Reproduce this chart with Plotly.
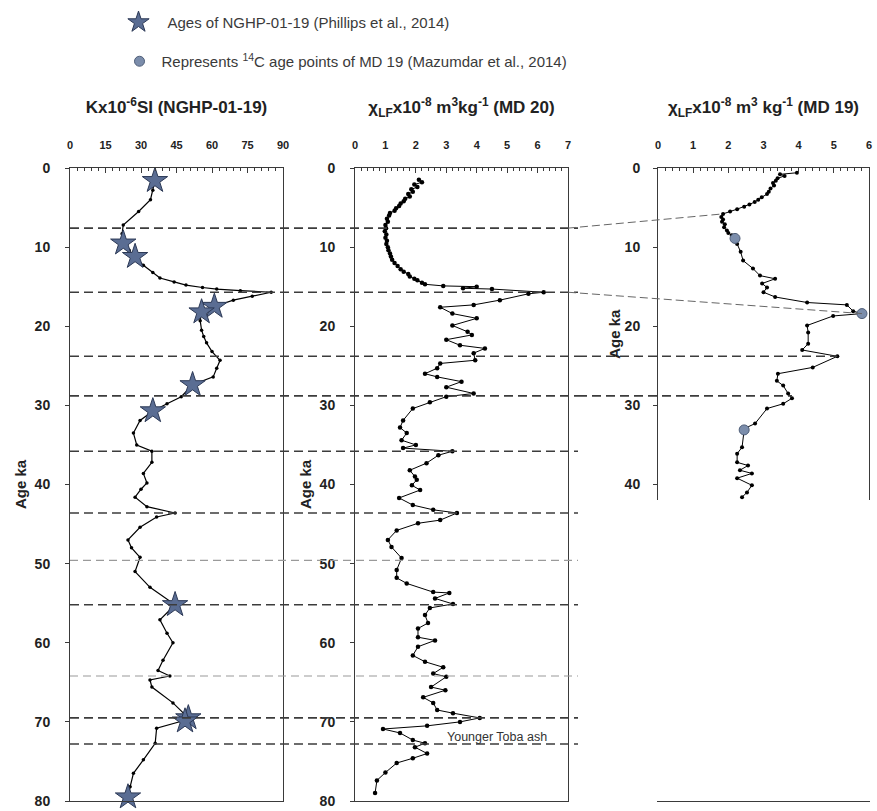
import plotly.graph_objects as go

# ---------------- data ----------------
# NGHP-01-19: magnetic susceptibility K (x10^-6 SI) versus age (ka)
ngh_age = [1.6, 2.8, 4.0, 5.5, 7.2, 8.3, 9.5, 10.4, 11.2, 12.3, 13.2, 13.9, 14.4, 14.8,
           15.1, 15.3, 15.5, 15.7, 16.2, 16.7, 17.5, 18.2, 19.3, 20.5, 21.3, 22.1, 23.2,
           24.3, 25.3, 26.4, 27.4, 28.9, 29.8, 30.7, 31.9, 33.5, 35.0, 35.8, 37.2, 38.6,
           39.8, 40.6, 41.6, 42.8, 43.6, 44.1, 45.4, 47.0, 48.0, 49.2, 51.0, 53.0, 55.2,
           57.1, 58.8, 60.0, 62.2, 63.5, 64.2, 64.7, 65.6, 67.6, 69.5, 69.8, 70.8, 72.7,
           74.8, 76.5, 78.2, 79.5]
ngh_k = [35.9, 35, 34, 29, 22.5, 22, 22.5, 25, 27.5, 31, 35, 38, 44, 49,
         56, 62, 72, 85, 77, 69, 61, 55.6, 55, 55.6, 56.5, 57.7, 60,
         63.4, 62, 60.5, 51.8, 47, 41, 35, 29.6, 26.8, 28.2, 34.6, 34.6, 31,
         32.5, 30, 27.5, 32.5, 44.4, 36.6, 29.6, 24.5, 26, 29.6, 27.5, 33.8, 44.4,
         38, 41, 43.5, 39.3, 37.2, 42.2, 33.8, 34.6, 43.5, 50, 48.6, 36.6, 36,
         31, 26.8, 25.4, 24.5]

# dated horizons of NGHP-01-19 (Phillips et al., 2014)
star_age = [1.6, 9.5, 11.2, 17.5, 18.2, 27.4, 30.7, 55.2, 69.5, 69.9, 79.5]
star_k = [35.9, 22.5, 27.5, 61, 55.6, 51.8, 35, 44.4, 50, 48.6, 24.5]

# MD 20: low-frequency mass susceptibility
md20_age = [1.5, 1.8, 2.1, 2.4, 2.7, 3.0, 3.3, 3.6, 3.9, 4.2, 4.5, 4.8, 5.1, 5.4, 5.7,
            6.0, 6.4, 6.8, 7.2, 7.6, 8.0, 8.4, 8.8, 9.2, 9.6, 10.0, 10.4, 10.8, 11.2,
            11.6, 12.0, 12.4, 12.8, 13.1, 13.4, 13.7, 14.0, 14.2, 14.5, 14.7,
            14.9, 15.0, 15.2, 15.3, 15.7,
            15.9, 16.7, 17.3, 17.6, 18.4, 19.0, 19.9, 20.7, 21.1, 21.7, 22.4, 22.8, 23.4,
            24.3, 24.7, 25.3, 26.0, 26.4, 27.0, 27.7, 28.5, 28.9, 29.6, 30.4, 31.9, 32.8,
            33.5, 34.4, 35.0, 35.4, 35.8, 36.3, 37.3, 38.2, 39.0, 39.4, 40.1, 40.7, 41.7,
            42.6, 43.2, 43.6, 44.5, 44.9, 45.8, 47.0, 47.9, 49.3, 50.8, 51.8, 52.5, 53.6,
            53.7, 54.4, 55.1, 55.6, 56.5, 57.5, 58.2, 59.3, 59.7, 60.5, 61.6, 62.4, 63.1,
            63.9, 64.3, 65.6, 66.0, 66.9, 67.6, 68.5, 68.9, 69.5, 70.0, 70.5, 70.9, 71.4,
            72.3, 72.7, 73.2, 74.0, 74.6, 75.2, 76.4, 77.4, 79.0]
md20_chi = [2.1, 2.2, 1.95, 2.05, 1.85, 1.9, 1.75, 1.8, 1.65, 1.6, 1.5, 1.45, 1.35, 1.3, 1.15,
            1.12, 1.05, 1.08, 1.0, 1.02, 0.98, 1.03, 1.0, 1.05, 1.03, 1.08, 1.1, 1.15, 1.18,
            1.22, 1.3, 1.4, 1.5, 1.6, 1.75, 1.8, 1.95, 2.05, 2.2, 2.3,
            2.9, 4.0, 3.55, 4.5, 6.2,
            5.7, 4.76, 3.9, 2.8, 3.2, 4.0, 3.2, 3.7, 3.84, 3.0, 3.45, 4.27, 3.9,
            3.95, 2.8, 2.7, 2.3, 2.7, 3.5, 3.0, 3.9, 3.0, 2.46, 1.9, 1.58, 1.48,
            1.7, 1.53, 2.0, 1.58, 3.2, 2.74, 2.35, 1.8, 1.97, 2.03, 1.87, 2.14, 1.45,
            1.9, 2.57, 3.35, 2.8, 2.07, 1.37, 1.08, 1.2, 1.53, 1.37, 1.37, 1.7, 2.57,
            3.1, 2.63, 3.22, 2.46, 2.3, 2.4, 2.07, 2.07, 2.63, 2.07, 1.9, 2.3, 2.9,
            2.57, 3.0, 2.5, 2.97, 2.24, 2.57, 2.7, 3.22, 4.1, 3.45, 2.37, 0.92, 1.48,
            1.9, 2.3, 1.97, 2.37, 1.9, 1.37, 1.0, 0.72, 0.66]

# MD 19: low-frequency mass susceptibility
md19_age = [0.6, 0.8, 1.0, 1.3, 1.6, 1.9, 2.2, 2.6, 3.0, 3.3, 3.7, 4.0, 4.3, 4.6, 4.9,
            5.2, 5.5, 5.8, 6.2, 6.5, 6.8, 7.1, 7.5, 7.9, 8.2, 8.5, 8.9, 9.2, 9.6,
            10.6, 11.7, 12.7, 13.6, 14.0, 14.6, 15.1, 15.7, 16.3, 17.0, 17.3, 18.1,
            18.4, 18.7, 19.9, 20.8, 22.2, 23.0, 23.8, 25.2, 26.0, 26.9, 27.5, 28.5, 29.1,
            29.8, 30.4, 32.3, 32.9, 33.1, 35.3, 36.1, 37.2, 37.6, 38.2, 38.6, 39.2, 40.1,
            41.0, 41.6]
md19_chi = [3.95, 3.47, 3.6, 3.4, 3.35, 3.27, 3.3, 3.2, 3.15, 3.1, 2.95, 2.85, 2.75, 2.6, 2.45,
            2.25, 2.05, 1.85, 1.8, 1.85, 1.82, 1.9, 1.88, 1.96, 2.0, 2.1, 2.19, 2.2, 2.25,
            2.35, 2.42, 2.7, 2.9, 3.33, 2.96, 3.1, 3.0, 3.33, 4.24, 5.37, 5.55,
            5.8, 4.98, 4.24, 4.27, 4.27, 4.1, 5.1, 4.4, 3.41, 3.38, 3.56, 3.7, 3.81,
            3.56, 3.1, 2.76, 2.47, 2.45, 2.39, 2.25, 2.25, 2.56, 2.33, 2.67, 2.25, 2.67,
            2.53, 2.39]

# 14C dated points of MD 19 (Mazumdar et al., 2014)
c14_age = [8.9, 18.4, 33.1]
c14_chi = [2.19, 5.8, 2.45]

# correlation horizons (ka)
horizons_dark = [7.6, 15.7, 23.8, 28.8, 35.8, 43.6, 55.2, 69.5, 72.8]
horizons_light = [49.6, 64.2]
# horizons tied to MD 19: (age in NGHP/MD20, age in MD19, MD19 value where line ends)
tie_slanted = [(7.6, 5.8, 1.85), (15.7, 18.4, 5.8)]
tie_level = [(23.8, 5.1), (28.8, 3.81)]

# ---------------- layout geometry ----------------
W, H = 877, 811
dom1 = [70 / W, 283 / W]
dom2 = [355 / W, 568 / W]
dom3 = [658 / W, 869 / W]
ytop = 1 - 168 / H
ybot = 1 - 801 / H
px_per_ka = (801 - 168) / 80
ybot3 = 1 - (168 + 42 * px_per_ka) / H
X3_MAX = 6


def x3_paper(v):
    return dom3[0] + v / X3_MAX * (dom3[1] - dom3[0])


FONT = "Liberation Sans, Arial, sans-serif"
AX = "#3a3a3a"

fig = go.Figure()

fig.add_trace(go.Scatter(
    x=ngh_k, y=ngh_age, xaxis="x", yaxis="y", mode="lines+markers",
    line=dict(color="black", width=1.2), marker=dict(color="black", size=3.5),
    showlegend=False, hoverinfo="skip"))
fig.add_trace(go.Scatter(
    x=star_k, y=star_age, xaxis="x", yaxis="y", mode="markers",
    marker=dict(symbol="star", size=19, color="#5a6d93",
                line=dict(color="#2c3956", width=1)),
    name="Ages of NGHP-01-19 (Phillips et al., 2014)", legend="legend",
    cliponaxis=False))

fig.add_trace(go.Scatter(
    x=md20_chi, y=md20_age, xaxis="x2", yaxis="y2", mode="lines+markers",
    line=dict(color="black", width=1), marker=dict(color="black", size=4.5),
    showlegend=False, hoverinfo="skip"))

fig.add_trace(go.Scatter(
    x=md19_chi, y=md19_age, xaxis="x3", yaxis="y3", mode="lines+markers",
    line=dict(color="black", width=1), marker=dict(color="black", size=4),
    showlegend=False, hoverinfo="skip"))
fig.add_trace(go.Scatter(
    x=c14_chi, y=c14_age, xaxis="x3", yaxis="y3", mode="markers",
    marker=dict(symbol="circle", size=10, color="#7b8dab",
                line=dict(color="#4f5e78", width=1)),
    name="Represents <sup>14</sup>C age points of MD 19 (Mazumdar et al., 2014)",
    legend="legend2", cliponaxis=False))


def xax(domain, rng, dtick, minor, title):
    return dict(
        domain=domain, range=rng, side="top", dtick=dtick, tick0=0,
        ticks="inside", ticklen=5, tickcolor=AX, tickwidth=1,
        minor=dict(dtick=minor, ticks="inside", ticklen=3, tickcolor=AX),
        showline=True, mirror=True, linecolor=AX, linewidth=1,
        showgrid=False, zeroline=False, ticklabelstandoff=14,
        tickfont=dict(family=FONT, size=11, color="#222", weight="bold"),
        title=dict(text=title, standoff=20,
                   font=dict(family=FONT, size=17, color="#222", weight="bold")),
    )


def yax(domain, rng, anchor, standoff, label_gap=12):
    return dict(
        domain=domain, range=rng, anchor=anchor, dtick=10, tick0=0,
        ticks="outside", ticklen=4, tickcolor=AX,
        showline=True, mirror=True, linecolor=AX, linewidth=1,
        showgrid=False, zeroline=False, ticklabelstandoff=label_gap,
        tickfont=dict(family=FONT, size=14, color="#222", weight="bold"),
        title=dict(text="Age ka", standoff=standoff,
                   font=dict(family=FONT, size=15, color="#222", weight="bold")),
    )


shapes = []
for a in horizons_dark:
    shapes.append(dict(type="line", xref="paper", yref="y", x0=dom1[0], x1=578 / W,
                       y0=a, y1=a, line=dict(color="#3c3c3c", width=1.6, dash="9px,5px")))
for a in horizons_light:
    shapes.append(dict(type="line", xref="paper", yref="y", x0=dom1[0], x1=578 / W,
                       y0=a, y1=a, line=dict(color="#9a9a9a", width=1.2, dash="8px,5px")))
for a0, a1, v in tie_slanted:
    shapes.append(dict(type="line", xref="paper", yref="y", x0=dom2[1], x1=x3_paper(v),
                       y0=a0, y1=a1, line=dict(color="#666", width=1, dash="8px,4px")))
for a, v in tie_level:
    shapes.append(dict(type="line", xref="paper", yref="y", x0=578 / W, x1=x3_paper(v),
                       y0=a, y1=a, line=dict(color="#3c3c3c", width=1.6, dash="9px,5px")))

legend_font = dict(family=FONT, size=15, color="#3a3a3a")

fig.update_layout(
    width=W, height=H, autosize=False,
    margin=dict(l=0, r=0, t=0, b=0, autoexpand=False),
    paper_bgcolor="white", plot_bgcolor="white",
    font=dict(family=FONT, color="#222"),
    xaxis=xax(dom1, [0, 90], 15, 3, "Kx10<sup>-6</sup>SI (NGHP-01-19)"),
    yaxis=yax([ybot, ytop], [80, 0], "x", 4),
    xaxis2=xax(dom2, [0, 7], 1, 0.2,
               "\u03c7<sub>LF</sub>x10<sup>-8</sup> m<sup>3</sup>kg<sup>-1</sup> (MD 20)"),
    yaxis2=yax([ybot, ytop], [80, 0], "x2", 4),
    xaxis3=xax(dom3, [0, X3_MAX], 1, 0.2,
               "\u03c7<sub>LF</sub>x10<sup>-8</sup> m<sup>3</sup> kg<sup>-1</sup> (MD 19)"),
    yaxis3=yax([ybot3, ytop], [42, 0], "x3", 0, label_gap=10),
    shapes=shapes,
    annotations=[dict(text="Younger Toba ash", xref="x2", yref="y2", x=4.67, y=71.9,
                      showarrow=False, font=dict(family=FONT, size=12.5, color="#333"))],
    showlegend=True,
    legend=dict(x=109.5 / W, y=1 - 6 / H, xanchor="left", yanchor="top", itemwidth=48,
                bgcolor="rgba(0,0,0,0)", font=legend_font),
    legend2=dict(x=117.5 / W, y=1 - 45 / H, xanchor="left", yanchor="top", itemwidth=34,
                 bgcolor="rgba(0,0,0,0)", font=legend_font),
)

fig.write_html("out.html")
